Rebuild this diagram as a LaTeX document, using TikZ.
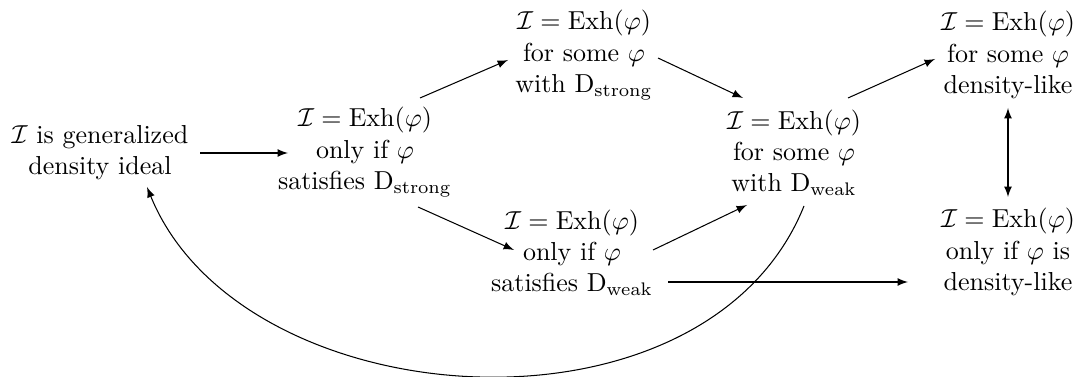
\documentclass[tikz,border=0pt]{standalone}
\usetikzlibrary{calc}
\begin{document}
\begin{tikzpicture}[x=0.3846pt,y=-0.3846pt,
  stmt/.style={align=center,inner sep=0pt,font=\normalsize},
  arr/.style={-latex,line width=0.4pt},
  darr/.style={latex-latex,line width=0.4pt}]
\useasboundingbox (0,0) rectangle (1078,377);
\node[stmt] (A) at (100,153) {$\mathcal{I}$ is generalized\\density ideal};
\node[stmt] (B) at (365,152) {$\mathcal{I}=\mathrm{Exh}(\varphi)$\\only if $\varphi$\\satisfies $\mathrm{D}_{\mathrm{strong}}$};
\node[stmt] (C) at (584,55) {$\mathcal{I}=\mathrm{Exh}(\varphi)$\\for some $\varphi$\\with $\mathrm{D}_{\mathrm{strong}}$};
\node[stmt] (D) at (572,253) {$\mathcal{I}=\mathrm{Exh}(\varphi)$\\only if $\varphi$\\satisfies $\mathrm{D}_{\mathrm{weak}}$};
\node[stmt] (E) at (794,153) {$\mathcal{I}=\mathrm{Exh}(\varphi)$\\for some $\varphi$\\with $\mathrm{D}_{\mathrm{weak}}$};
\node[stmt] (F) at (1008,55) {$\mathcal{I}=\mathrm{Exh}(\varphi)$\\for some $\varphi$\\density-like};
\node[stmt] (G) at (1008,252) {$\mathcal{I}=\mathrm{Exh}(\varphi)$\\only if $\varphi$ is\\density-like};
\draw[arr] ($(A)+(100,0)$) -- ($(B)+(-77,1)$);
\draw[arr] ($(B)+(55,-54)$) -- ($(C)+(-76,5)$);
\draw[arr] ($(C)+(74,3)$) -- ($(E)+(-51,-55)$);
\draw[arr] ($(B)+(53,55)$) -- ($(D)+(-58,-3)$);
\draw[arr] ($(D)+(81,-3)$) -- ($(E)+(-47,52)$);
\draw[arr] ($(E)+(54,-55)$) -- ($(F)+(-73,4)$);
\draw[darr] ($(F)+(0,53)$) -- ($(G)+(0,-55)$);
\draw[arr] ($(D)+(96,29)$) -- ($(G)+(-100,30)$);
\draw[arr] ($(E)+(10,53)$) .. controls (705,452) and (241,419) .. ($(A)+(47,34)$);
\end{tikzpicture}
\end{document}
